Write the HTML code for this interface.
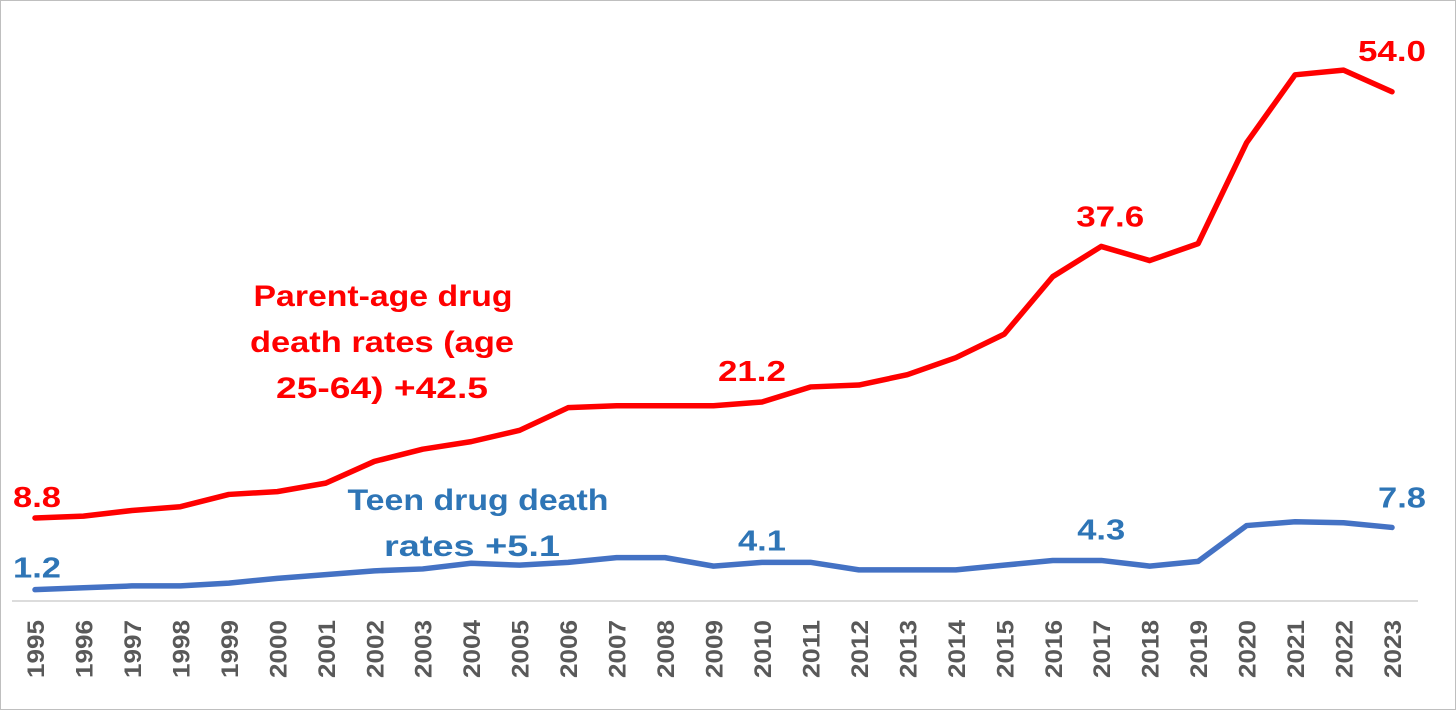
<!DOCTYPE html>
<html><head><meta charset="utf-8">
<style>
html,body{margin:0;padding:0;background:#fff;}
svg{display:block;font-family:"Liberation Sans",Arial,sans-serif;}
</style></head>
<body>
<svg id="chart" width="1456" height="710" viewBox="0 0 1456 710">
<rect x="0.5" y="0.5" width="1455" height="709" fill="#fff" stroke="#bfbfbf"/>
<line x1="12" y1="601" x2="1418" y2="601" stroke="#d0d0d0" stroke-width="1.5"/>
<g id="marks"></g>
<g font-size="30" font-weight="bold" fill="#ff0000" text-anchor="middle">
<text x="383" y="306" textLength="259" lengthAdjust="spacingAndGlyphs">Parent-age drug</text>
<text x="382" y="352" textLength="264" lengthAdjust="spacingAndGlyphs">death rates (age</text>
<text x="382" y="398" textLength="212" lengthAdjust="spacingAndGlyphs">25-64)  +42.5</text>
</g>
<g font-size="30" font-weight="bold" fill="#2e75b6" text-anchor="middle">
<text x="478" y="510" textLength="261" lengthAdjust="spacingAndGlyphs">Teen drug death</text>
<text x="472" y="556" textLength="176" lengthAdjust="spacingAndGlyphs">rates  +5.1</text>
</g>
</svg>
<script>
const years = [1995,1996,1997,1998,1999,2000,2001,2002,2003,2004,2005,2006,2007,2008,2009,2010,2011,2012,2013,2014,2015,2016,2017,2018,2019,2020,2021,2022,2023];
const parentRates = [8.8,9.0,9.6,10.0,11.3,11.6,12.5,14.8,16.1,16.9,18.1,20.5,20.7,20.7,20.7,21.1,22.7,22.9,24.0,25.8,28.3,34.4,37.6,36.1,37.9,48.6,55.8,56.3,54.0];
const teenRates = [1.2,1.4,1.6,1.6,1.9,2.4,2.8,3.2,3.4,4.0,3.8,4.1,4.6,4.6,3.7,4.1,4.1,3.3,3.3,3.3,3.8,4.3,4.3,3.7,4.2,8.0,8.4,8.3,7.8];
const parentLabelYears = [1995,2010,2017,2023];
const parentLabelText = ["8.8","21.2","37.6","54.0"];
const teenLabelYears = [1995,2010,2017,2023];
const teenLabelText = ["1.2","4.1","4.3","7.8"];

// label placement offsets (layout only)
const parentLabelDx = [2,-10,9,0];
const parentLabelDy = [-11,-21,-20,-31];
const teenLabelDx = [2,0,0,10];
const teenLabelDy = [-12,-12,-21,-20];

const NS="http://www.w3.org/2000/svg";
const g=document.getElementById('marks');
const x0=35, x1=1392, yBase=601, pxPerUnit=9.43;
function xs(yr){return x0+(yr-years[0])*(x1-x0)/(years[years.length-1]-years[0]);}
function ys(v){return yBase-v*pxPerUnit;}

years.forEach(yr=>{
  const t=document.createElementNS(NS,'text');
  
  
  const x=xs(yr)+9, y=620;
  t.setAttribute('transform',`translate(${x},${y}) rotate(-90)`);
  t.setAttribute('text-anchor','end');
  t.setAttribute('font-size','24');
  t.setAttribute('font-weight','bold');
  t.setAttribute('fill','#595959');
  t.setAttribute('textLength','58');
  t.setAttribute('lengthAdjust','spacingAndGlyphs');
  t.textContent=yr;
  g.appendChild(t);
});

function line(vals,color,name){
  const p=document.createElementNS(NS,'polyline');
  
  
  p.setAttribute('points',vals.map((v,i)=>xs(years[i])+','+ys(v)).join(' '));
  p.setAttribute('fill','none');
  p.setAttribute('stroke',color);
  p.setAttribute('stroke-width','5.5');
  p.setAttribute('stroke-linejoin','round');
  p.setAttribute('stroke-linecap','round');
  g.appendChild(p);
}
line(parentRates,'#ff0000','parent-age-line');
line(teenRates,'#4472c4','teen-line');

function labels(yrs,txts,vals,dxs,dys,color,name){
  yrs.forEach((yr,k)=>{
    const i=years.indexOf(yr);
    const t=document.createElementNS(NS,'text');
    
    
    t.setAttribute('x',xs(yr)+dxs[k]);
    t.setAttribute('y',ys(vals[i])+dys[k]);
    t.setAttribute('text-anchor','middle');
    t.setAttribute('font-size','29');
    t.setAttribute('font-weight','bold');
    t.setAttribute('fill',color);
    t.setAttribute('textLength',txts[k].length===3?'48':'68');
    t.setAttribute('lengthAdjust','spacingAndGlyphs');
    t.textContent=txts[k];
    g.appendChild(t);
  });
}
labels(parentLabelYears,parentLabelText,parentRates,parentLabelDx,parentLabelDy,'#ff0000','parent-data-label');
labels(teenLabelYears,teenLabelText,teenRates,teenLabelDx,teenLabelDy,'#2e75b6','teen-data-label');
</script>
</body></html>
